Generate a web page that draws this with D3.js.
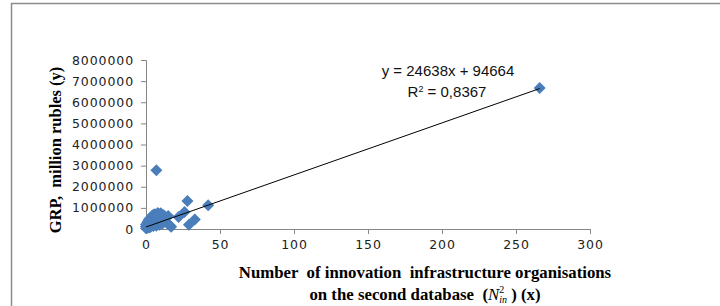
<!DOCTYPE html>
<html>
<head>
<meta charset="utf-8">
<script src="https://cdn.jsdelivr.net/npm/d3@7"></script>
<style>
  body { margin: 0; background: #fff; }
  svg { display: block; }
</style>
</head>
<body>
<svg width="720" height="306"></svg>
<script>
// number of innovation infrastructure organisations (x) and GRP, million rubles (y)
const orgs = [0, 0, 0, 1, 1, 1, 1, 1, 2, 2, 2, 2, 2, 2, 3, 3, 3, 3, 3, 4, 4, 4, 4, 4,
  5, 5, 5, 5, 6, 6, 6, 6, 7, 7, 7, 7, 8, 8, 8, 9, 9, 9, 10, 10, 10, 11, 11, 12, 12,
  13, 14, 15, 16, 17, 7, 22, 26, 28, 29, 33, 42, 266];
const grp = [40000, 120000, 210000, 60000, 150000, 260000, 330000, 90000, 180000, 380000,
  70000, 290000, 450000, 120000, 230000, 400000, 520000, 100000, 310000, 170000, 470000,
  610000, 260000, 360000, 140000, 540000, 680000, 300000, 420000, 580000, 220000, 700000,
  350000, 640000, 150000, 490000, 760000, 270000, 560000, 430000, 690000, 200000, 600000,
  320000, 740000, 480000, 250000, 650000, 390000, 560000, 300000, 620000, 180000, 110000,
  2780000, 570000, 800000, 1330000, 200000, 450000, 1130000, 6680000];
const slope = 24638, intercept = 94664;
const xTicks = [0, 50, 100, 150, 200, 250, 300];
const yTicks = [0, 1000000, 2000000, 3000000, 4000000, 5000000, 6000000, 7000000, 8000000];

const points = orgs.map((d, i) => ({ x: d, y: grp[i] }));

const svg = d3.select("svg");

// chart frame
svg.append("path")
  .attr("d", "M11.5,306 V3.5 H720")
  .attr("fill", "none")
  .attr("stroke", "#8c8c8c")
  .attr("stroke-width", 1.5);

const x = d3.scaleLinear().domain([0, 300]).range([146, 590]);
const y = d3.scaleLinear().domain([0, 8000000]).range([229, 60]);

// axes
const xAxis = svg.append("g")
  .attr("transform", "translate(0,229)")
  .call(d3.axisBottom(x).tickValues(xTicks).tickSize(5).tickPadding(6).tickFormat(d3.format("d")));
const yAxis = svg.append("g")
  .attr("transform", "translate(146,0)")
  .call(d3.axisLeft(y).tickValues(yTicks).tickSize(5).tickPadding(7).tickFormat(d3.format("d")));

[xAxis, yAxis].forEach(g => {
  g.selectAll("path, line").attr("stroke", "#868686");
  g.selectAll("text")
    .attr("fill", "#222")
    .style("font-family", "DejaVu Sans")
    .style("font-size", "12.5px")
    .style("letter-spacing", "0.9px");
});

// trendline
const xMin = d3.min(orgs), xMax = d3.max(orgs);
const trend = () => svg.append("line")
  .attr("x1", x(xMin)).attr("y1", y(slope * xMin + intercept))
  .attr("x2", x(xMax)).attr("y2", y(slope * xMax + intercept))
  .attr("stroke", "#000")
  .attr("stroke-width", 1);

// markers
svg.append("g").selectAll("path")
  .data(points)
  .enter()
  .append("path")
  .attr("d", d3.symbol(d3.symbolSquare, 72))
  .attr("transform", d => `translate(${x(d.x)},${y(d.y)}) rotate(45)`)
  .attr("fill", "#4a7ebb");

trend();

// equation label
svg.append("text")
  .attr("x", 448).attr("y", 76)
  .attr("text-anchor", "middle")
  .style("font-family", "Liberation Sans")
  .style("font-size", "15px")
  .attr("fill", "#111")
  .text("y = 24638x + 94664");
const r2 = svg.append("text")
  .attr("x", 447).attr("y", 97)
  .attr("text-anchor", "middle")
  .style("font-family", "Liberation Sans")
  .style("font-size", "15px")
  .attr("fill", "#111");
r2.append("tspan").text("R");
r2.append("tspan").attr("dy", -5).style("font-size", "9px").text("2");
r2.append("tspan").attr("dy", 5).text(" = 0,8367");

// axis titles
svg.append("text")
  .attr("transform", "translate(61,150) rotate(-90)")
  .attr("text-anchor", "middle")
  .style("font-family", "Liberation Serif")
  .style("font-weight", "bold")
  .style("font-size", "16.5px")
  .style("white-space", "pre")
  .text("GRP,  million rubles (y)");

svg.append("text")
  .attr("x", 425).attr("y", 278)
  .attr("text-anchor", "middle")
  .style("font-family", "Liberation Serif")
  .style("font-weight", "bold")
  .style("font-size", "16.8px")
  .style("white-space", "pre")
  .text("Number  of innovation  infrastructure organisations");

const t2 = svg.append("text")
  .attr("x", 425).attr("y", 300)
  .attr("text-anchor", "middle")
  .style("font-family", "Liberation Serif")
  .style("font-size", "16.8px")
  .style("white-space", "pre");
t2.append("tspan").style("font-weight", "bold").text("on the second database  (");
t2.append("tspan").style("font-style", "italic").text("N");
t2.append("tspan").attr("dy", -7).style("font-size", "10px").text("2");
t2.append("tspan").attr("dx", -5).attr("dy", 10).style("font-size", "10px").style("font-style", "italic").text("in");
t2.append("tspan").attr("dy", -3).style("font-weight", "bold").text(" ) (x)");
</script>
</body>
</html>
